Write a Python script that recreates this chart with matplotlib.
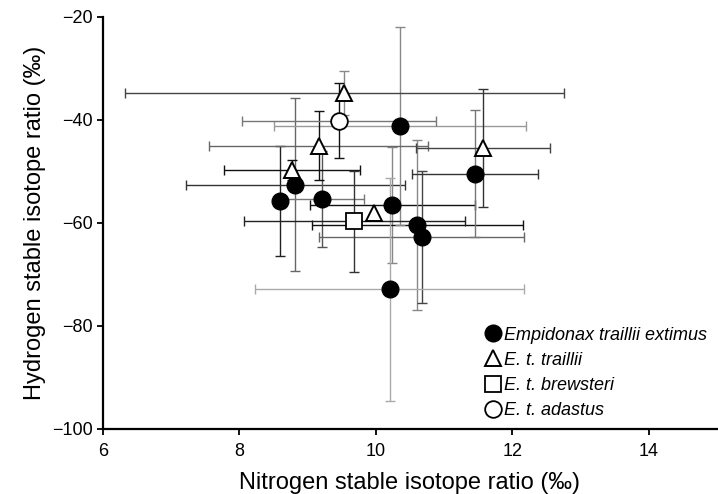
import numpy as np
import matplotlib
matplotlib.use("Agg")
from matplotlib import pyplot as plt
from matplotlib.lines import Line2D

# ================================================================
# DATA
# ================================================================
LEGEND_LABELS = [
    "Empidonax traillii extimus",
    "E. t. traillii",
    "E. t. brewsteri",
    "E. t. adastus",
]

# Empidonax traillii extimus (filled circles)
ext_x = [8.59, 8.82, 9.21, 10.24, 10.61, 10.67, 10.20, 10.35, 11.45]
ext_y = [-55.7, -52.6, -55.4, -56.5, -60.3, -62.8, -72.9, -41.1, -50.4]
ext_xerr = [0.0, 1.61, 0.61, 1.21, 1.54, 1.50, 1.97, 1.85, 0.92]
ext_yerr = [10.7, 16.8, 9.3, 11.3, 16.5, 12.8, 21.7, 19.2, 12.3]

# E. t. traillii (open triangles)
tra_x = [9.54, 9.16, 8.77, 11.57, 9.97]
tra_y = [-34.8, -45.0, -49.7, -45.4, -58.0]
tra_xerr = [3.22, 1.61, 0.99, 0.98, 0.0]
tra_yerr = [4.3, 6.7, 1.9, 11.4, 0.0]

# E. t. brewsteri (open square)
bre_x = [9.68]
bre_y = [-59.7]
bre_xerr = [1.62]
bre_yerr = [9.8]

# E. t. adastus (open circle)
ada_x = [9.46]
ada_y = [-40.1]
ada_xerr = [1.42]
ada_yerr = [7.35]

X_TICKS = [6, 8, 10, 12, 14]
Y_TICKS = [-100, -80, -60, -40, -20]

# shades of the error bars (style, per point: horizontal / vertical)
ext_hshade = ["#222222", "#333333", "#777777", "#111111", "#111111", "#666666", "#aaaaaa", "#999999", "#333333"]
ext_vshade = ["#222222", "#666666", "#555555", "#888888", "#888888", "#444444", "#aaaaaa", "#888888", "#777777"]
tra_hshade = ["#444444", "#666666", "#111111", "#444444", "#444444"]
tra_vshade = ["#888888", "#111111", "#111111", "#333333", "#333333"]
bre_hshade = ["#222222"]
bre_vshade = ["#333333"]
ada_hshade = ["#777777"]
ada_vshade = ["#111111"]


# ================================================================
# FUNCTIONS
# ================================================================
def draw_errors(ax, xs, ys, xerrs, yerrs, hshade, vshade):
    for x, y, xe, ye, hc, vc in zip(xs, ys, xerrs, yerrs, hshade, vshade):
        if xe > 0:
            ax.errorbar(x, y, xerr=xe, fmt="none", ecolor=hc,
                        elinewidth=1.0, capsize=3.6, capthick=1.0, zorder=2)
        if ye > 0:
            ax.errorbar(x, y, yerr=ye, fmt="none", ecolor=vc,
                        elinewidth=1.0, capsize=3.6, capthick=1.0, zorder=2)


# ================================================================
# MAIN
# ================================================================
plt.rcParams["font.family"] = ["Liberation Sans", "DejaVu Sans"]

fig = plt.figure(figsize=(7.18, 4.94), dpi=100)
ax = fig.add_axes([0.1435, 0.1316, 0.855, 0.834])

draw_errors(ax, ext_x, ext_y, ext_xerr, ext_yerr, ext_hshade, ext_vshade)
draw_errors(ax, tra_x, tra_y, tra_xerr, tra_yerr, tra_hshade, tra_vshade)
draw_errors(ax, bre_x, bre_y, bre_xerr, bre_yerr, bre_hshade, bre_vshade)
draw_errors(ax, ada_x, ada_y, ada_xerr, ada_yerr, ada_hshade, ada_vshade)

ax.plot(ext_x, ext_y, "o", ms=12, mfc="black", mec="black", zorder=4)
ax.plot(tra_x, tra_y, "^", ms=12, mfc="white", mec="black", mew=1.4, zorder=4)
ax.plot(bre_x, bre_y, "s", ms=11, mfc="white", mec="black", mew=1.3, zorder=4)
ax.plot(ada_x, ada_y, "o", ms=12, mfc="white", mec="black", mew=1.3, zorder=4)

ax.set_xlim(6, 15)
ax.set_ylim(-100, -20)
ax.set_xticks(X_TICKS)
ax.set_yticks(Y_TICKS)
ax.set_yticklabels([f"\u2212{abs(v)}" for v in Y_TICKS])

for side in ("top", "right"):
    ax.spines[side].set_visible(False)
for side in ("left", "bottom"):
    ax.spines[side].set_linewidth(1.6)
ax.tick_params(direction="out", length=4, width=1.3, labelsize=13)
ax.tick_params(axis="x", pad=6)

ax.set_xlabel("Nitrogen stable isotope ratio (\u2030)", fontsize=17, labelpad=9)
ax.set_ylabel("Hydrogen stable isotope ratio (\u2030)", fontsize=17, labelpad=4)

handles = [
    Line2D([], [], ls="none", marker="o", ms=12, mfc="black", mec="black"),
    Line2D([], [], ls="none", marker="^", ms=12, mfc="white", mec="black", mew=1.4),
    Line2D([], [], ls="none", marker="s", ms=11, mfc="white", mec="black", mew=1.3),
    Line2D([], [], ls="none", marker="o", ms=12, mfc="white", mec="black", mew=1.3),
]
leg = ax.legend(handles, LEGEND_LABELS, loc="lower right", frameon=False,
                prop={"size": 13, "style": "italic"}, handlelength=0.8,
                handletextpad=0.2, labelspacing=0.45, borderaxespad=0.15,
                bbox_to_anchor=(1.0, 0.0))

fig.savefig("out.png", dpi=100)
